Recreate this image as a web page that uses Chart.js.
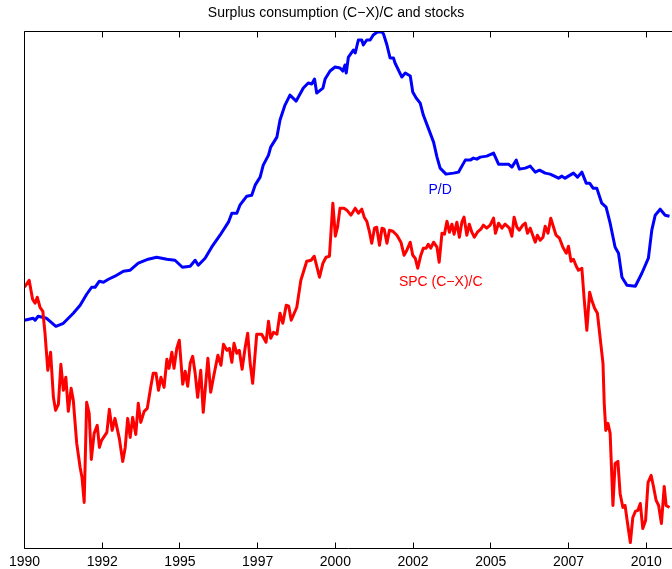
<!DOCTYPE html>
<html>
<head>
<meta charset="utf-8">
<script src="https://cdn.jsdelivr.net/npm/chart.js@4"></script>
<style>
html, body { margin: 0; padding: 0; background: #fff; overflow: hidden; }
</style>
</head>
<body>
<canvas id="spc" width="672" height="569"></canvas>
<script>
// x values are decimal years, y values an index with no printed units
var pdYears = [
	1990.00, 1990.28, 1990.34, 1990.44, 1990.71, 1991.01, 1991.25, 1991.57, 1991.79, 1992.00,
	1992.16, 1992.27, 1992.41, 1992.54, 1992.70, 1992.91, 1993.18, 1993.40, 1993.66, 1993.98,
	1994.25, 1994.58, 1994.84, 1995.08, 1995.33, 1995.49, 1995.59, 1995.81, 1996.02, 1996.29,
	1996.56, 1996.67, 1996.83, 1996.93, 1997.15, 1997.31, 1997.42, 1997.58, 1997.68, 1997.85,
	1997.92, 1998.12, 1998.22, 1998.38, 1998.54, 1998.74, 1998.97, 1999.13, 1999.24, 1999.33,
	1999.40, 1999.60, 1999.67, 1999.83, 1999.99, 2000.15, 2000.24, 2000.31, 2000.35, 2000.42,
	2000.58, 2000.64, 2000.74, 2000.85, 2000.90, 2001.01, 2001.12, 2001.22, 2001.35, 2001.50,
	2001.55, 2001.66, 2001.76, 2001.87, 2001.92, 2002.14, 2002.25, 2002.41, 2002.49, 2002.60,
	2002.73, 2002.83, 2002.99, 2003.16, 2003.27, 2003.37, 2003.56, 2003.80, 2003.96, 2004.18,
	2004.34, 2004.44, 2004.55, 2004.66, 2004.87, 2005.09, 2005.25, 2005.57, 2005.68, 2005.82,
	2005.92, 2006.11, 2006.27, 2006.43, 2006.57, 2006.75, 2006.91, 2007.18, 2007.29, 2007.39,
	2007.66, 2007.79, 2007.93, 2008.07, 2008.18, 2008.29, 2008.41, 2008.57, 2008.71, 2008.84,
	2009.00, 2009.11, 2009.22, 2009.38, 2009.65, 2009.86, 2010.07, 2010.18, 2010.29, 2010.45,
	2010.61, 2010.75
];
var pdValues = [
	228, 230, 228, 232, 230, 222, 225, 235, 243, 254,
	261, 261, 267, 266, 269, 272, 277, 278, 285, 289,
	291, 289, 288, 281, 282, 288, 283, 290, 301, 313,
	326, 335, 335, 343, 352, 353, 363, 371, 383, 393,
	401, 411, 428, 443, 453, 447, 460, 465, 464, 469,
	455, 460, 469, 477, 481, 480, 477, 483, 475, 491,
	498, 495, 508, 508, 503, 508, 508, 513, 516, 516,
	514, 503, 490, 490, 485, 471, 475, 472, 456, 450,
	445, 433, 420, 406, 391, 380, 374, 375, 376, 388,
	388, 390, 389, 391, 392, 395, 384, 384, 381, 388,
	379, 380, 382, 376, 378, 375, 374, 370, 372, 370,
	375, 371, 376, 365, 365, 360, 360, 345, 341, 325,
	301, 295, 271, 263, 262, 275, 290, 318, 333, 339,
	333, 332
];

var spcYears = [
	1990.00, 1990.15, 1990.26, 1990.34, 1990.41, 1990.50, 1990.59, 1990.66, 1990.75, 1990.84,
	1990.93, 1991.00, 1991.09, 1991.17, 1991.25, 1991.33, 1991.41, 1991.50, 1991.57, 1991.68,
	1991.79, 1991.85, 1991.92, 1992.00, 1992.08, 1992.15, 1992.24, 1992.34, 1992.41, 1992.48,
	1992.65, 1992.73, 1992.82, 1992.91, 1993.05, 1993.16, 1993.24, 1993.32, 1993.40, 1993.48,
	1993.58, 1993.66, 1993.74, 1993.85, 1993.95, 1994.06, 1994.14, 1994.23, 1994.31, 1994.39,
	1994.49, 1994.58, 1994.65, 1994.74, 1994.81, 1994.90, 1994.98, 1995.09, 1995.17, 1995.25,
	1995.33, 1995.41, 1995.49, 1995.57, 1995.67, 1995.75, 1995.90, 1995.99, 1996.08, 1996.22,
	1996.32, 1996.40, 1996.51, 1996.59, 1996.67, 1996.74, 1996.83, 1996.91, 1997.00, 1997.10,
	1997.18, 1997.26, 1997.34, 1997.47, 1997.63, 1997.77, 1997.85, 1997.92, 1998.01, 1998.12,
	1998.22, 1998.31, 1998.42, 1998.50, 1998.58, 1998.76, 1998.89, 1999.08, 1999.22, 1999.32,
	1999.49, 1999.60, 1999.70, 1999.81, 1999.92, 2000.00, 2000.07, 2000.15, 2000.28, 2000.37,
	2000.50, 2000.64, 2000.74, 2000.85, 2000.93, 2001.01, 2001.10, 2001.17, 2001.26, 2001.33,
	2001.42, 2001.50, 2001.57, 2001.66, 2001.74, 2001.85, 2001.98, 2002.11, 2002.21, 2002.30,
	2002.41, 2002.49, 2002.57, 2002.65, 2002.75, 2002.83, 2002.92, 2002.99, 2003.07, 2003.16,
	2003.27, 2003.34, 2003.43, 2003.51, 2003.59, 2003.67, 2003.75, 2003.82, 2003.91, 2003.99,
	2004.07, 2004.14, 2004.23, 2004.31, 2004.39, 2004.47, 2004.57, 2004.68, 2004.76, 2004.87,
	2004.98, 2005.09, 2005.15, 2005.25, 2005.36, 2005.46, 2005.60, 2005.68, 2005.75, 2005.84,
	2005.92, 2006.03, 2006.11, 2006.18, 2006.27, 2006.35, 2006.43, 2006.50, 2006.59, 2006.68,
	2006.75, 2006.84, 2006.93, 2007.02, 2007.10, 2007.21, 2007.32, 2007.43, 2007.50, 2007.58,
	2007.66, 2007.75, 2007.82, 2007.93, 2008.00, 2008.09, 2008.18, 2008.25, 2008.34, 2008.43,
	2008.52, 2008.61, 2008.65, 2008.70, 2008.77, 2008.84, 2008.93, 2009.00, 2009.09, 2009.16,
	2009.25, 2009.32, 2009.41, 2009.49, 2009.57, 2009.65, 2009.73, 2009.81, 2009.89, 2009.98,
	2010.06, 2010.16, 2010.24, 2010.32, 2010.40, 2010.49, 2010.58, 2010.64, 2010.75
];
var spcValues = [
	261, 268, 249, 245, 251, 241, 237, 215, 178, 196,
	151, 138, 144, 184, 158, 171, 137, 160, 148, 105,
	81, 71, 46, 146, 135, 89, 115, 123, 101, 108,
	116, 139, 118, 130, 110, 87, 101, 130, 111, 131,
	114, 145, 126, 137, 140, 161, 175, 175, 158, 171,
	161, 189, 180, 196, 180, 200, 208, 164, 177, 162,
	185, 192, 175, 151, 178, 136, 190, 156, 171, 193,
	183, 204, 198, 200, 186, 205, 195, 198, 179, 201,
	215, 185, 165, 214, 214, 206, 227, 210, 216, 214,
	235, 225, 243, 242, 228, 241, 268, 287, 288, 292,
	271, 285, 291, 292, 345, 312, 321, 340, 340, 338,
	333, 340, 335, 339, 331, 327, 316, 305, 320, 321,
	303, 320, 319, 305, 318, 317, 313, 306, 293, 298,
	306, 293, 290, 280, 293, 300, 300, 304, 300, 306,
	301, 286, 315, 314, 327, 316, 324, 314, 326, 311,
	326, 331, 313, 324, 316, 311, 316, 319, 323, 320,
	323, 330, 315, 325, 320, 324, 320, 312, 331, 321,
	318, 323, 325, 315, 320, 313, 306, 313, 308, 311,
	322, 315, 330, 321, 313, 310, 301, 295, 302, 287,
	289, 282, 278, 280, 251, 218, 256, 248, 240, 235,
	210, 185, 145, 118, 125, 115, 43, 85, 87, 55,
	41, 43, 23, 6, 31, 37, 38, 45, 20, 28,
	66, 73, 61, 48, 43, 25, 62, 43, 41
];

var tickValues = [1990, 1992.5, 1995, 1997.5, 2000, 2002.5, 2005, 2007.5, 2010];
var tickLabels = ['1990', '1992', '1995', '1997', '2000', '2002', '2005', '2007', '2010'];

var labelTexts = ['P/D', 'SPC (C\u2212X)/C'];
var labelYears = [2003.37, 2003.39];
var labelValues = [358, 266];
var labelColors = ['rgb(0,0,255)', 'rgb(255,0,0)'];

var FONT = '"Liberation Sans", Arial, Helvetica, sans-serif';
Chart.defaults.font.family = FONT;
Chart.defaults.color = '#000';

function points(xs, ys) {
	return xs.map(function (x, i) { return { x: x, y: ys[i] }; });
}

// matlab style box: left, top and bottom lines, ticks pointing inward
var frame = {
	id: 'frame',
	afterDatasetsDraw: function (chart) {
		var ctx = chart.ctx;
		var xs = chart.scales.x, ys = chart.scales.y;
		ctx.save();
		ctx.font = '14px ' + FONT;
		ctx.textAlign = 'center';
		ctx.textBaseline = 'middle';
		for (let i = 0; i < labelTexts.length; i++) {
			ctx.fillStyle = labelColors[i];
			ctx.fillText(labelTexts[i], xs.getPixelForValue(labelYears[i]), ys.getPixelForValue(labelValues[i]));
		}
		ctx.restore();
	},
	afterDraw: function (chart) {
		var ctx = chart.ctx, a = chart.chartArea, xs = chart.scales.x;
		var left = Math.floor(a.left) + 0.5;
		var top = Math.floor(a.top) + 0.5;
		var bottom = Math.floor(a.bottom) + 0.5;
		ctx.save();
		ctx.strokeStyle = '#000';
		ctx.lineWidth = 1;
		ctx.beginPath();
		ctx.moveTo(a.right, top);
		ctx.lineTo(left, top);
		ctx.lineTo(left, bottom);
		ctx.lineTo(a.right, bottom);
		for (let v of tickValues) {
			var px = Math.floor(xs.getPixelForValue(v)) + 0.5;
			ctx.moveTo(px, bottom);
			ctx.lineTo(px, bottom - 6);
			ctx.moveTo(px, top);
			ctx.lineTo(px, top + 6);
		}
		ctx.stroke();
		ctx.restore();
	}
};

var ctx = document.getElementById('spc').getContext('2d');
var chart = new Chart(ctx, {
	type: 'line',
	data: {
		datasets: [{
			label: 'SPC (C-X)/C',
			data: points(spcYears, spcValues),
			borderColor: 'rgb(255,0,0)',
			borderWidth: 3,
			pointRadius: 0,
			tension: 0,
			fill: false,
			borderJoinStyle: 'round'
		}, {
			label: 'P/D',
			data: points(pdYears, pdValues),
			borderColor: 'rgb(0,0,255)',
			borderWidth: 3,
			pointRadius: 0,
			tension: 0,
			fill: false,
			borderJoinStyle: 'round'
		}]
	},
	options: {
		responsive: false,
		animation: false,
		devicePixelRatio: 1,
		events: [],
		layout: { padding: 0 },
		scales: {
			x: {
				type: 'linear',
				min: 1990,
				max: 2010.83,
				grid: { display: false, drawTicks: false },
				border: { display: false },
				afterBuildTicks: function (scale) {
					scale.ticks = tickValues.map(function (v) { return { value: v }; });
				},
				afterFit: function (scale) { scale.height = 20.5; },
				ticks: {
					padding: 5,
					maxRotation: 0,
					autoSkip: false,
					font: { size: 14 },
					color: '#000',
					callback: function (value, index) { return tickLabels[index]; }
				}
			},
			y: {
				min: 0,
				max: 517,
				grid: { display: false, drawTicks: false },
				border: { display: false },
				ticks: { display: false },
				afterFit: function (scale) { scale.width = 24.5; }
			}
		},
		plugins: {
			legend: { display: false },
			tooltip: { enabled: false },
			title: {
				display: true,
				text: 'Surplus consumption (C\u2212X)/C and stocks',
				color: '#000',
				font: { size: 14, weight: 'normal' },
				padding: { top: 5, bottom: 9.2 }
			}
		}
	},
	plugins: [frame]
});
</script>
</body>
</html>
